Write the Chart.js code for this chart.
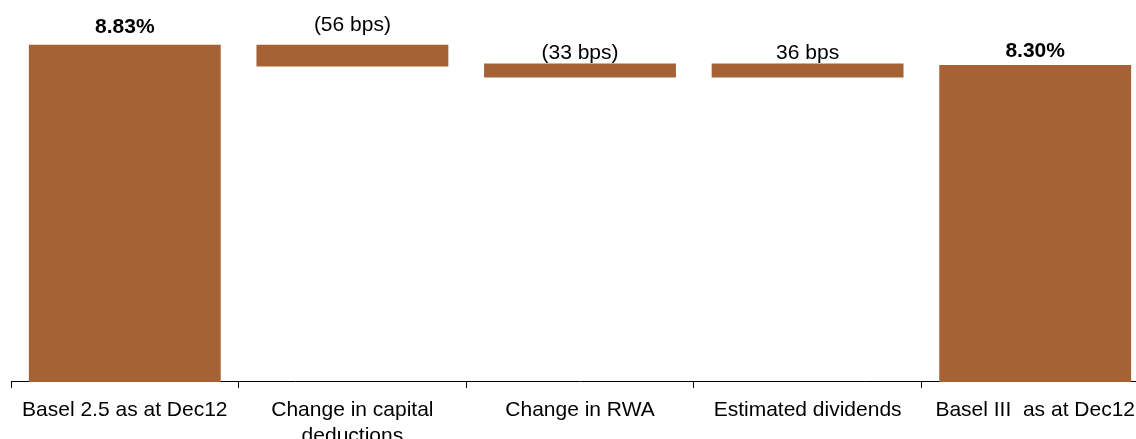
<!DOCTYPE html>
<html>
<head>
<meta charset="utf-8">
<script src="https://cdn.jsdelivr.net/npm/chart.js@4"></script>
<style>
  html, body { margin: 0; padding: 0; background: #fff; overflow: hidden; }
  #wrap { position: relative; width: 1149px; height: 458px; }
</style>
</head>
<body>
<div id="wrap"><canvas id="grafico"></canvas></div>
<script>
// categorias e valores (em %)
const categorias = ["Basel 2.5 as at Dec12", ["Change in capital", "deductions"], "Change in RWA", "Estimated dividends", "Basel III  as at Dec12"];
const inicio = [0, 8.26, 7.97, 7.97, 0];      // base de cada barra
const fim = [8.83, 8.83, 8.34, 8.34, 8.30];   // topo de cada barra
const rotulos = ["8.83%", "(56 bps)", "(33 bps)", "36 bps", "8.30%"];
const negrito = [true, false, false, false, true];

// distância (px) entre o rótulo e o topo da barra
const folga = [12, 14, 4, 4, 8];

const cor = "#A66235";
const fonte = "'Liberation Sans', Arial, sans-serif";

// plugin simples para escrever os rótulos em cima das barras
const rotulosPlugin = {
    id: "rotulos",
    afterDatasetsDraw(chart) {
        const ctx = chart.ctx;
        const meta = chart.getDatasetMeta(0);
        ctx.save();
        ctx.fillStyle = "#000";
        ctx.textAlign = "center";
        ctx.textBaseline = "alphabetic";
        meta.data.forEach((bar, i) => {
            ctx.font = (negrito[i] ? "bold " : "") + "21px " + fonte;
            const topo = Math.min(bar.y, bar.base);
            ctx.fillText(rotulos[i], bar.x, topo - folga[i]);
        });
        ctx.restore();
    }
};

const config = {
    type: "bar",
    data: {
        labels: categorias,
        datasets: [{
            data: inicio.map((v, i) => [v, fim[i]]),
            backgroundColor: cor,
            borderWidth: 0,
            barPercentage: 0.843,
            categoryPercentage: 1
        }]
    },
    options: {
        responsive: true,
        maintainAspectRatio: false,
        animation: false,
        layout: { padding: { left: 11, right: 0, top: 0, bottom: 0 } },
        plugins: {
            legend: { display: false },
            tooltip: { enabled: false }
        },
        scales: {
            x: {
                offset: true,
                grid: {
                    display: true,
                    drawOnChartArea: false,
                    drawTicks: true,
                    tickLength: 6,
                    color: "#000",
                    offset: true
                },
                border: { display: true, color: "#000", width: 1 },
                ticks: {
                    color: "#000",
                    padding: 9,
                    maxRotation: 0,
                    autoSkip: false,
                    font: { family: fonte, size: 21, lineHeight: 1.24 }
                }
            },
            y: {
                display: false,
                min: 0,
                max: 10
            }
        }
    },
    plugins: [rotulosPlugin]
};

const grafico = new Chart(document.getElementById("grafico"), config);
</script>
</body>
</html>
